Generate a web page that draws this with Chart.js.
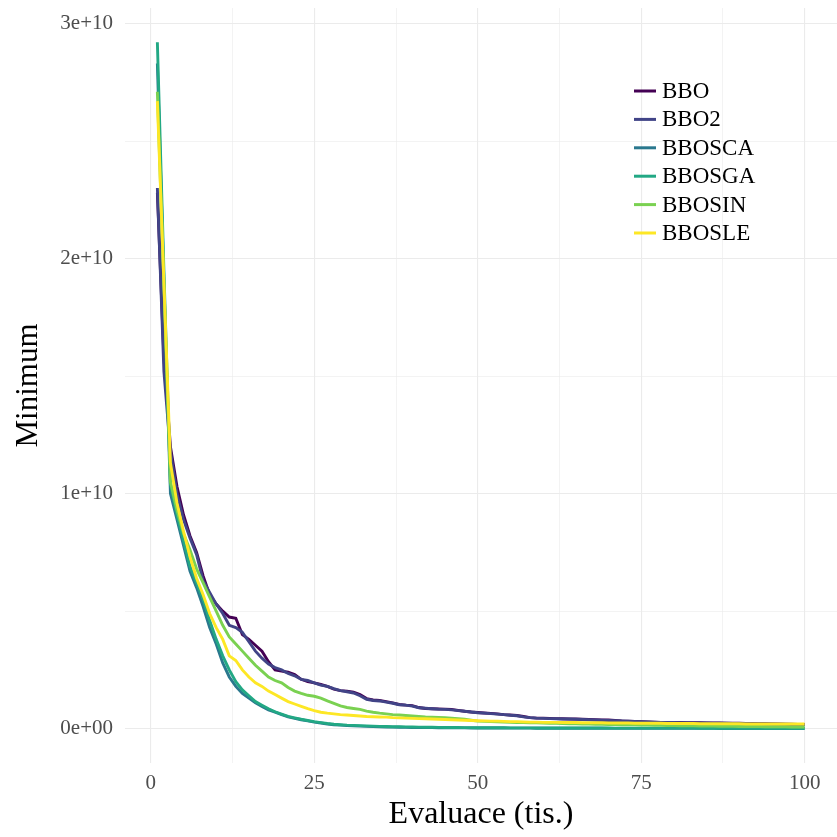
<!DOCTYPE html>
<html>
<head>
<meta charset="utf-8">
<title>Minimum vs Evaluace</title>
<script src="https://cdn.jsdelivr.net/npm/chart.js@4.4.1/dist/chart.umd.min.js"></script>
<style>
  html, body { margin: 0; padding: 0; background: #fff; }
  #wrap { width: 837px; height: 837px; position: relative; }
</style>
</head>
<body>
<div id="wrap"><canvas id="chartMin"></canvas></div>
<script>
// Hodnoty jsou v jednotkach 1e9 (osa Y je popsana jako 0e+00 ... 3e+10)
const seriesNames = ['BBO', 'BBO2', 'BBOSCA', 'BBOSGA', 'BBOSIN', 'BBOSLE'];
const seriesColors = ['#440154', '#414487', '#2A788E', '#22A884', '#7AD151', '#FDE725'];

// evaluace v tisicich: 1..100
const evaluace = Array.from({ length: 100 }, (_, i) => i + 1);

const bbo = [22.8, 15.8, 12.0, 10.3, 9.1, 8.2, 7.5, 6.5, 5.7, 5.3,
  5.0, 4.75, 4.7, 4.0, 3.8, 3.55, 3.3, 2.85, 2.5, 2.45,
  2.4, 2.3, 2.1, 2.0, 1.95, 1.88, 1.8, 1.68, 1.62, 1.6,
  1.55, 1.45, 1.28, 1.22, 1.2, 1.15, 1.1, 1.03, 1.0, 0.98,
  0.9, 0.86, 0.85, 0.84, 0.83, 0.82, 0.78, 0.74, 0.71, 0.69,
  0.67, 0.65, 0.63, 0.6, 0.58, 0.56, 0.52, 0.47, 0.45, 0.45,
  0.44, 0.43, 0.42, 0.41, 0.41, 0.4, 0.39, 0.38, 0.37, 0.37,
  0.35, 0.33, 0.32, 0.31, 0.3, 0.29, 0.28, 0.27, 0.27, 0.26,
  0.26, 0.25, 0.25, 0.25, 0.24, 0.24, 0.24, 0.23, 0.23, 0.23,
  0.22, 0.22, 0.21, 0.21, 0.2, 0.2, 0.19, 0.19, 0.18, 0.18];

const bbo2 = [23.0, 15.2, 11.8, 10.0, 8.9, 8.1, 7.4, 6.3, 5.8, 5.3,
  4.9, 4.4, 4.3, 4.1, 3.7, 3.3, 3.0, 2.75, 2.6, 2.5,
  2.35, 2.25, 2.1, 2.05, 1.95, 1.85, 1.8, 1.7, 1.62, 1.57,
  1.52, 1.4, 1.25, 1.2, 1.18, 1.13, 1.08, 1.02, 1.0, 0.96,
  0.89, 0.87, 0.85, 0.83, 0.82, 0.8, 0.77, 0.74, 0.71, 0.68,
  0.66, 0.64, 0.62, 0.6, 0.57, 0.55, 0.5, 0.47, 0.45, 0.44,
  0.43, 0.42, 0.41, 0.41, 0.4, 0.39, 0.38, 0.37, 0.36, 0.35,
  0.34, 0.33, 0.32, 0.31, 0.3, 0.29, 0.28, 0.27, 0.26, 0.26,
  0.25, 0.25, 0.24, 0.24, 0.24, 0.23, 0.23, 0.23, 0.22, 0.22,
  0.22, 0.21, 0.21, 0.2, 0.2, 0.19, 0.19, 0.18, 0.18, 0.17];

const bbosca = [28.3, 19.0, 10.0, 8.9, 7.8, 6.7, 6.0, 5.2, 4.3, 3.6,
  2.8, 2.2, 1.8, 1.5, 1.3, 1.1, 0.95, 0.8, 0.7, 0.6,
  0.5, 0.44, 0.38, 0.33, 0.28, 0.24, 0.2, 0.17, 0.15, 0.13,
  0.12, 0.11, 0.1, 0.09, 0.08, 0.07, 0.065, 0.06, 0.055, 0.05,
  0.048, 0.046, 0.044, 0.042, 0.04, 0.038, 0.036, 0.034, 0.032, 0.03,
  0.029, 0.028, 0.027, 0.026, 0.025, 0.024, 0.023, 0.022, 0.021, 0.02,
  0.02, 0.019, 0.019, 0.018, 0.018, 0.017, 0.017, 0.016, 0.016, 0.015,
  0.015, 0.015, 0.014, 0.014, 0.014, 0.013, 0.013, 0.013, 0.012, 0.012,
  0.012, 0.012, 0.011, 0.011, 0.011, 0.011, 0.01, 0.01, 0.01, 0.01,
  0.01, 0.009, 0.009, 0.009, 0.009, 0.009, 0.008, 0.008, 0.008, 0.008];

const bbosga = [29.2, 19.5, 10.4, 9.1, 8.0, 6.9, 6.2, 5.5, 4.6, 3.8,
  3.1, 2.5, 2.0, 1.65, 1.4, 1.15, 1.0, 0.85, 0.72, 0.62,
  0.52, 0.46, 0.4, 0.35, 0.3, 0.26, 0.22, 0.19, 0.17, 0.15,
  0.14, 0.13, 0.12, 0.11, 0.1, 0.09, 0.085, 0.08, 0.075, 0.07,
  0.066, 0.062, 0.058, 0.055, 0.052, 0.05, 0.048, 0.046, 0.044, 0.042,
  0.04, 0.039, 0.038, 0.037, 0.036, 0.035, 0.034, 0.033, 0.032, 0.031,
  0.03, 0.03, 0.029, 0.029, 0.028, 0.028, 0.027, 0.027, 0.026, 0.026,
  0.025, 0.025, 0.025, 0.024, 0.024, 0.024, 0.023, 0.023, 0.023, 0.022,
  0.022, 0.022, 0.022, 0.021, 0.021, 0.021, 0.021, 0.02, 0.02, 0.02,
  0.02, 0.02, 0.019, 0.019, 0.019, 0.019, 0.019, 0.018, 0.018, 0.018];

const bbosin = [27.1, 18.8, 10.5, 9.3, 8.3, 7.6, 6.8, 6.2, 5.6, 5.0,
  4.4, 3.9, 3.6, 3.3, 3.0, 2.7, 2.45, 2.2, 2.05, 1.95,
  1.75, 1.6, 1.5, 1.42, 1.38, 1.3, 1.18, 1.08, 0.97, 0.9,
  0.86, 0.82, 0.75, 0.7, 0.66, 0.63, 0.6, 0.58, 0.56, 0.54,
  0.52, 0.5, 0.49, 0.48, 0.47, 0.45, 0.43, 0.4, 0.36, 0.32,
  0.31, 0.3, 0.29, 0.28, 0.27, 0.26, 0.26, 0.25, 0.25, 0.24,
  0.23, 0.23, 0.22, 0.21, 0.21, 0.2, 0.2, 0.19, 0.19, 0.18,
  0.18, 0.17, 0.17, 0.16, 0.15, 0.15, 0.14, 0.14, 0.13, 0.13,
  0.12, 0.12, 0.12, 0.11, 0.11, 0.11, 0.1, 0.1, 0.1, 0.09,
  0.09, 0.09, 0.09, 0.08, 0.08, 0.08, 0.08, 0.07, 0.07, 0.07];

const bbosle = [26.7, 19.0, 11.3, 9.6, 8.4, 7.3, 6.4, 5.7, 4.9, 4.3,
  3.8, 3.1, 2.9, 2.5, 2.2, 1.95, 1.8, 1.6, 1.45, 1.3,
  1.15, 1.05, 0.95, 0.85, 0.77, 0.7, 0.66, 0.63, 0.6, 0.58,
  0.56, 0.54, 0.52, 0.51, 0.5, 0.49, 0.47, 0.46, 0.45, 0.44,
  0.43, 0.42, 0.41, 0.4, 0.39, 0.38, 0.37, 0.36, 0.35, 0.34,
  0.33, 0.32, 0.32, 0.31, 0.3, 0.3, 0.29, 0.28, 0.28, 0.27,
  0.27, 0.27, 0.26, 0.26, 0.26, 0.25, 0.25, 0.25, 0.25, 0.24,
  0.24, 0.24, 0.24, 0.23, 0.23, 0.23, 0.23, 0.23, 0.22, 0.22,
  0.22, 0.22, 0.22, 0.21, 0.21, 0.21, 0.21, 0.21, 0.21, 0.21,
  0.2, 0.2, 0.2, 0.2, 0.2, 0.2, 0.2, 0.2, 0.2, 0.2];

const seriesValues = [bbo, bbo2, bbosca, bbosga, bbosin, bbosle];

// osy: hlavni + vedlejsi mrizka (ggplot theme_minimal)
const xTicks = [0, 12.5, 25, 37.5, 50, 62.5, 75, 87.5, 100];
const xTickLabels = ['0', '', '25', '', '50', '', '75', '', '100'];
const yTicks = [0, 5, 10, 15, 20, 25, 30];
const yTickLabels = ['0e+00', '', '1e+10', '', '2e+10', '', '3e+10'];

const FONT = "'Liberation Serif', 'DejaVu Serif', serif";
const GRID = '#EBEBEB';

// legenda uvnitr grafu, vpravo nahore
const insideLegend = {
  id: 'insideLegend',
  afterDraw(chart) {
    const ctx = chart.ctx;
    ctx.save();
    ctx.font = '23px ' + FONT;
    ctx.textBaseline = 'middle';
    ctx.textAlign = 'left';
    seriesNames.forEach((name, i) => {
      const y = 91 + i * 28.4;
      ctx.strokeStyle = seriesColors[i];
      ctx.lineWidth = 3;
      ctx.beginPath();
      ctx.moveTo(634, y);
      ctx.lineTo(656, y);
      ctx.stroke();
      ctx.fillStyle = '#000';
      ctx.fillText(name, 662, y + 1);
    });
    ctx.restore();
  }
};

const datasets = seriesNames.map((name, i) => ({
  label: name,
  data: evaluace.map((x, j) => ({ x: x, y: seriesValues[i][j] })),
  borderColor: seriesColors[i],
  backgroundColor: seriesColors[i],
  borderWidth: 2.9,
  pointRadius: 0,
  tension: 0,
  fill: false,
  order: seriesNames.length - i
}));

new Chart(document.getElementById('chartMin').getContext('2d'), {
  type: 'line',
  data: { datasets },
  options: {
    responsive: true,
    maintainAspectRatio: false,
    animation: false,
    layout: { padding: { top: 8, right: 0, left: 0, bottom: 0 } },
    plugins: { legend: { display: false }, tooltip: { enabled: false } },
    scales: {
      x: {
        type: 'linear',
        min: -3.95, max: 104.95,
        afterBuildTicks: s => { s.ticks = xTicks.map(v => ({ value: v })); },
        afterFit: s => { s.height = 74; s.paddingLeft = 0; s.paddingRight = 0; },
        border: { display: false },
        grid: {
          color: GRID, drawTicks: false,
          lineWidth: c => (c.tick && c.tick.value % 25 === 0 ? 1.1 : 0.6)
        },
        ticks: {
          padding: 8, color: '#4D4D4D', maxRotation: 0, autoSkip: false,
          font: { family: FONT, size: 21 },
          callback: (v, i) => xTickLabels[i]
        },
        title: {
          display: true, text: 'Evaluace (tis.)', color: '#000',
          font: { family: FONT, size: 32 }, padding: { top: 0, bottom: 3 }
        }
      },
      y: {
        type: 'linear',
        min: -1.46, max: 30.66,
        afterBuildTicks: s => { s.ticks = yTicks.map(v => ({ value: v })); },
        afterFit: s => { s.width = 125; s.paddingTop = 0; s.paddingBottom = 0; },
        border: { display: false },
        grid: {
          color: GRID, drawTicks: false,
          lineWidth: c => (c.tick && c.tick.value % 10 === 0 ? 1.1 : 0.6)
        },
        ticks: {
          padding: 12, color: '#4D4D4D', autoSkip: false,
          font: { family: FONT, size: 21 },
          callback: (v, i) => yTickLabels[i]
        },
        title: {
          display: true, text: 'Minimum', color: '#000',
          font: { family: FONT, size: 31 }, padding: { top: 10, bottom: 0 }
        }
      }
    }
  },
  plugins: [insideLegend]
});
</script>
</body>
</html>
